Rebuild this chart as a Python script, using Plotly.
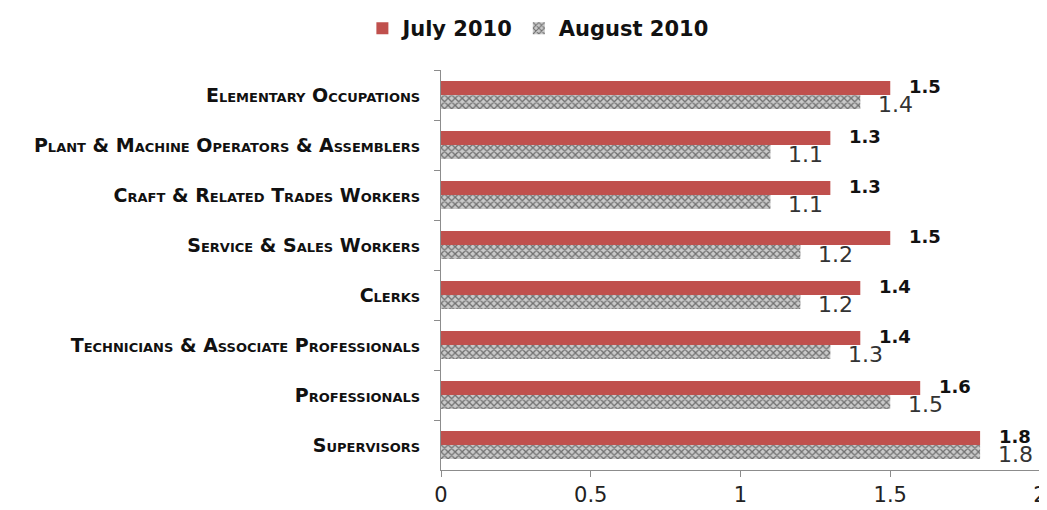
import plotly.graph_objects as go

categories = [
    "Elementary Occupations",
    "Plant & Machine Operators & Assemblers",
    "Craft & Related Trades Workers",
    "Service & Sales Workers",
    "Clerks",
    "Technicians & Associate Professionals",
    "Professionals",
    "Supervisors",
]
july_2010 = [1.5, 1.3, 1.3, 1.5, 1.4, 1.4, 1.6, 1.8]
august_2010 = [1.4, 1.1, 1.1, 1.2, 1.2, 1.3, 1.5, 1.8]
x_ticks = [0, 0.5, 1, 1.5, 2]
x_tick_labels = ["0", "0.5", "1", "1.5", "2"]

FONT = "DejaVu Sans"

fig = go.Figure()
fig.add_trace(go.Bar(
    name="July 2010", y=categories, x=july_2010, orientation="h",
    marker=dict(color="#C0504D", line=dict(width=0)),
))
fig.add_trace(go.Bar(
    name="August 2010", y=categories, x=august_2010, orientation="h",
    marker=dict(color="#b5b5b5", line=dict(width=0),
                pattern=dict(shape="x", fgcolor="#707070", bgcolor="#cacaca",
                             size=5, solidity=0.45, fillmode="replace")),
))

ann = []
for c, v in zip(categories, july_2010):
    ann.append(dict(x=v, y=c, xref="x", yref="y", text=f"{v:.1f}", showarrow=False,
                    xanchor="left", yanchor="middle", xshift=17, yshift=9,
                    font=dict(family=FONT, size=18, color="#111111", weight="bold")))
for c, v in zip(categories, august_2010):
    ann.append(dict(x=v, y=c, xref="x", yref="y", text=f"{v:.1f}", showarrow=False,
                    xanchor="left", yanchor="middle", xshift=16, yshift=-9,
                    font=dict(family=FONT, size=22, color="#333333")))

# the page body has an 8px margin, so the figure is sized and offset to compensate
fig.update_layout(
    width=1039, height=502,
    margin=dict(l=433, r=7, t=62, b=40, autoexpand=False),
    paper_bgcolor="white", plot_bgcolor="white",
    barmode="group", bargap=0.44, bargroupgap=0,
    font=dict(family=FONT, color="#222222"),
    annotations=ann,
    legend=dict(orientation="h", xref="container", x=0.51, xanchor="center",
                yref="container", y=1.0, yanchor="top",
                font=dict(family=FONT, size=21, color="#111111", weight="bold"),
                itemwidth=30, tracegroupgap=0),
    xaxis=dict(range=[0, 2], tickvals=x_ticks, ticktext=x_tick_labels, automargin=False,
               showgrid=False, zeroline=False, showline=True, linecolor="#8c8c8c",
               linewidth=1, ticks="outside", ticklen=6, tickcolor="#8c8c8c",
               tickfont=dict(family=FONT, size=21, color="#222222")),
    yaxis=dict(autorange="reversed", automargin=False, showgrid=False, showline=True,
               linecolor="#8c8c8c", linewidth=1, ticks="outside", ticklen=6,
               tickcolor="#8c8c8c", tickson="boundaries", ticklabelstandoff=16,
               tickfont=dict(family=FONT, size=19, color="#111111", weight="bold",
                             variant="small-caps")),
)

fig.write_html("out.html")
